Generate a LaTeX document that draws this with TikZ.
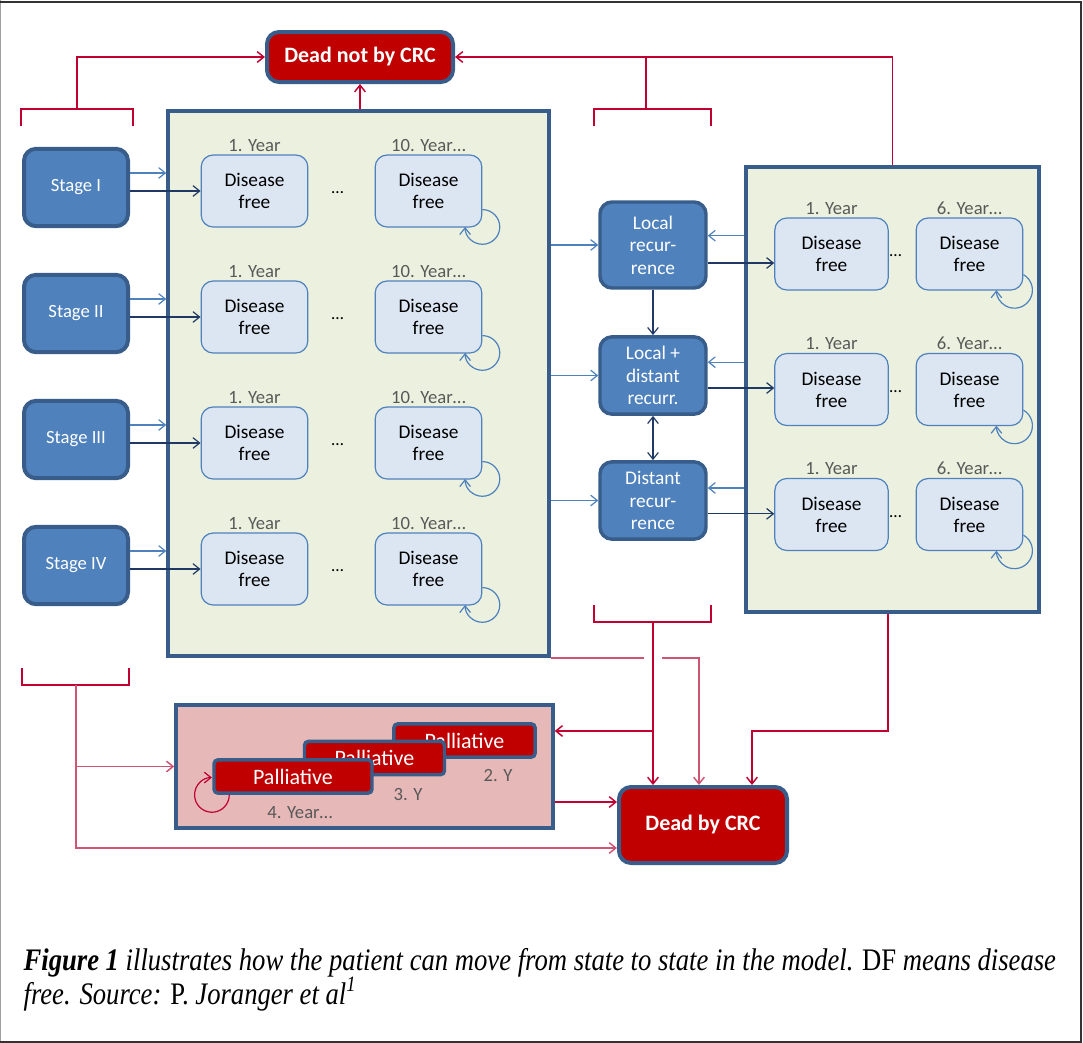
\documentclass[tikz,border=0pt]{standalone}
\usepackage{fontspec}
\setmainfont{Carlito}
\newfontfamily\capfont[FakeStretch=0.85]{Liberation Serif}
\usetikzlibrary{positioning}
\usetikzlibrary{calc}
\usetikzlibrary{arrows.meta}
\definecolor{stagefill}{RGB}{79,129,189}
\definecolor{stageline}{RGB}{56,93,138}
\definecolor{dffill}{RGB}{220,230,242}
\definecolor{dfline}{RGB}{79,129,189}
\definecolor{panelfill}{RGB}{235,241,222}
\definecolor{pallfill}{RGB}{230,184,183}
\definecolor{deadred}{RGB}{192,0,0}
\definecolor{redline}{RGB}{192,0,48}
\definecolor{pinkline}{RGB}{205,85,115}
\definecolor{lightblue}{RGB}{79,129,189}
\definecolor{navy}{RGB}{31,56,100}
\definecolor{yeargray}{RGB}{89,89,89}
\definecolor{framegray}{RGB}{160,160,160}
\definecolor{framedark}{RGB}{50,50,50}

\begin{document}
\begin{tikzpicture}[x=0.75pt, y=-0.75pt, >={Straight Barb[length=5pt,width=8pt]},
    every node/.style={font=\fontsize{13}{16}\selectfont, inner sep=1pt},
    stagebox/.style={draw=stageline, line width=3pt, fill=stagefill, rounded corners=9pt,
        minimum width=78pt, minimum height=58pt, text=white,
        font=\fontsize{14}{17}\selectfont},
    dfbox/.style={draw=dfline, line width=0.9pt, fill=dffill, rounded corners=9pt,
        minimum width=80pt, minimum height=54pt, align=center,
        font=\fontsize{14.5}{16.5}\selectfont},
    recbox/.style={draw=stageline, line width=2.6pt, fill=stagefill, rounded corners=9pt,
        minimum width=79.5pt, minimum height=58pt, align=center, text=white,
        font=\fontsize{14.5}{16.9}\selectfont},
    deadbox/.style={draw=stageline, line width=3pt, fill=deadred, rounded corners=9pt,
        text=white, font=\fontsize{16.5}{20}\selectfont\bfseries},
    pallbox/.style={draw=stageline, line width=2.6pt, fill=deadred, rounded corners=3pt,
        minimum height=25pt, text=white, font=\fontsize{16.5}{19}\selectfont},
    panel/.style={draw=stageline, line width=2.6pt},
    yearlbl/.style={text=yeargray, font=\fontsize{14}{16}\selectfont},
    bracket/.style={draw=redline, line width=2.2pt},
    redarr/.style={draw=redline, line width=1.1pt, ->},
    pinkarr/.style={draw=pinkline, line width=1.1pt, ->},
    lightarr/.style={draw=lightblue, line width=0.9pt, ->},
    navyarr/.style={draw=navy, line width=0.9pt, ->}]

    \useasboundingbox (0,0) rectangle (1083,1043);
    \draw[framegray, line width=0.75pt] (0.5,0) -- (0.5,1043);
    \draw[framedark, line width=1.5pt] (0,1.5) -- (1081,1.5) -- (1081,1041.5) -- (0,1041.5);

    % panels
    \node[panel, fill=panelfill, minimum width=285.75pt, minimum height=408.75pt] (lpanel) at (358.5,383.5) {};
    \node[panel, fill=panelfill, minimum width=219.75pt, minimum height=333.75pt] (rpanel) at (892.5,389.5) {};
    \node[panel, fill=pallfill, minimum width=282.75pt, minimum height=92.25pt] (pall) at (364.5,766.5) {};

    \node[deadbox, minimum width=139.5pt, minimum height=37.5pt] (dnot) at (360,57) {Dead not by CRC};
    \node[deadbox, minimum width=126pt, minimum height=57pt] (dcrc) at (703,825) {Dead by CRC};

    % stages and first ten years
    \foreach \i/\s/\y in {1/I/187.5, 2/II/313.5, 3/III/439.5, 4/IV/565.5} {
        \node[stagebox] (st\i) at (76,\y) {Stage \s};
        \node[dfbox] (dfa\i) at (254.5,{\y+3.5}) {Disease\\free};
        \node[dfbox] (dfb\i) at (428.5,{\y+3.5}) {Disease\\free};
        \node[yearlbl, above=1pt of dfa\i] (yla\i) {1. Year};
        \node[yearlbl, above=1pt of dfb\i] (ylb\i) {10. Year…};
        \node (dots\i) at ($(dfa\i)!0.5!(dfb\i)+(-4,2)$) {…};
        \draw[lightarr] ([yshift=10.9pt]st\i.east) -- ([yshift=10.9pt]st\i.east -| lpanel.west);
        \draw[navyarr] (st\i.east |- dfa\i.west) -- (dfa\i.west);
        \draw[lightarr] ([yshift=13.5pt]dfb\i.south east) arc[start angle=90, end angle=-180, radius=13pt];
    }

    % recurrences
    \node[recbox, minimum height=64.5pt] (rec1) at (653,245) {Local\\recur-\\rence};
    \node[recbox] (rec2) at (653,375.5) {Local +\\distant\\recurr.};
    \node[recbox] (rec3) at (653,500.5) {Distant\\recur-\\rence};
    \draw[navyarr] (rec1) -- (rec2);
    \draw[navyarr, <->] (rec2) -- (rec3);

    \foreach \i/\y in {1/254, 2/389.5, 3/514.5} {
        \node[dfbox, minimum width=85pt] (rdfa\i) at (831.5,\y) {Disease\\free};
        \node[dfbox] (rdfb\i) at (969.5,\y) {Disease\\free};
        \node[yearlbl, above=1pt of rdfa\i] (ryla\i) {1. Year};
        \node[yearlbl, above=1pt of rdfb\i] (rylb\i) {6. Year…};
        \node (rdots\i) at ($(rdfa\i)!0.5!(rdfb\i)+(-5,2)$) {…};
        \draw[lightarr] ([yshift=12pt]rdfb\i.south east) arc[start angle=60, end angle=-180, radius=13.5pt];
        \draw[lightarr] (lpanel.east |- rec\i.west) -- (rec\i.west);
    }
    \foreach \i/\d in {1/7, 2/10, 3/9.4}
        \draw[lightarr] ([yshift=\d pt]rec\i.east -| rpanel.west) -- ([yshift=\d pt]rec\i.east);
    \foreach \i/\d in {1/-13.5, 2/-9.4, 3/-10}
        \draw[navyarr] ([yshift=\d pt]rec\i.east) -- ([yshift=\d pt]rec\i.east -| rdfa\i.west);

    % palliative
    \node[pallbox, minimum width=106pt] (pal2) at (464.5,740.5) {Palliative};
    \node[pallbox, minimum width=105pt] (pal3) at (374.5,758) {Palliative};
    \node[pallbox, minimum width=118.5pt] (pal4) at (293,776.5) {Palliative};
    \node[yearlbl] (ylp2) at (498,776) {2. Y};
    \node[yearlbl] (ylp3) at (408,795) {3. Y};
    \node[yearlbl] (ylp4) at (300,813) {4. Year…};
    \draw[redarr, line width=0.9pt] ([xshift=12.75pt]pal4.south west) arc[start angle=0, end angle=-270, radius=13pt];

    % transitions to death
    \draw[bracket] (21,126) -- (21,109) -- (133,109) -- (133,126);
    \draw[bracket] (594,126) -- (594,109) -- (711,109) -- (711,126);
    \draw[bracket] (594,605) -- (594,622) -- (711,622) -- (711,605);
    \draw[bracket] (22,668) -- (22,685) -- (129,685) -- (129,668);
    \coordinate (brtl) at (77,109);
    \coordinate (brtm) at (646,109);
    \coordinate (brbm) at (653,622);
    \coordinate (brbl) at (76,685);

    \draw[redarr] (brtl) |- (dnot.west);
    \draw[redarr] (rpanel.north) |- (dnot.east);
    \draw[redline, line width=1.1pt] (brtm) -- (brtm |- dnot.east);
    \draw[redarr] (lpanel.north -| dnot.south) -- (dnot.south);

    \draw[redarr] (brbm) -- (brbm |- dcrc.north);
    \coordinate (palin) at (653,731);
    \draw[redarr] (palin) -- (palin -| pall.east);
    \coordinate (gapl) at (644,658);
    \coordinate (gapr) at (662,658);
    \draw[pinkline, line width=1.1pt] (lpanel.south east |- gapl) -- (gapl);
    \draw[pinkarr] (gapr) -| ([xshift=-3pt]dcrc.north);
    \coordinate (rbend) at (888,731);
    \draw[redarr] (rpanel.south -| rbend) -- (rbend) -| ([xshift=36.75pt]dcrc.north);

    \draw[pinkline, line width=1.1pt] (brbl) -- (brbl |- 0,848);
    \draw[pinkarr] (brbl |- pall.west) -- (pall.west);
    \draw[pinkarr] (brbl) |- ([yshift=-17.25pt]dcrc.west);
    \draw[redarr] ([yshift=17.25pt]dcrc.west -| pall.east) -- ([yshift=17.25pt]dcrc.west);

    % caption
    \node[anchor=base west, font=\capfont\fontsize{23.5}{28}\selectfont\itshape] (cap1) at (22,970)
        {\textbf{Figure 1} illustrates how the patient can move from state to state in the model. {\upshape DF} means disease};
    \node[anchor=base west, font=\capfont\fontsize{23.5}{28}\selectfont\itshape] (cap2) at (22,1004)
        {free. Source: {\upshape P.} Joranger et al\textsuperscript{1}};
\end{tikzpicture}
\end{document}
